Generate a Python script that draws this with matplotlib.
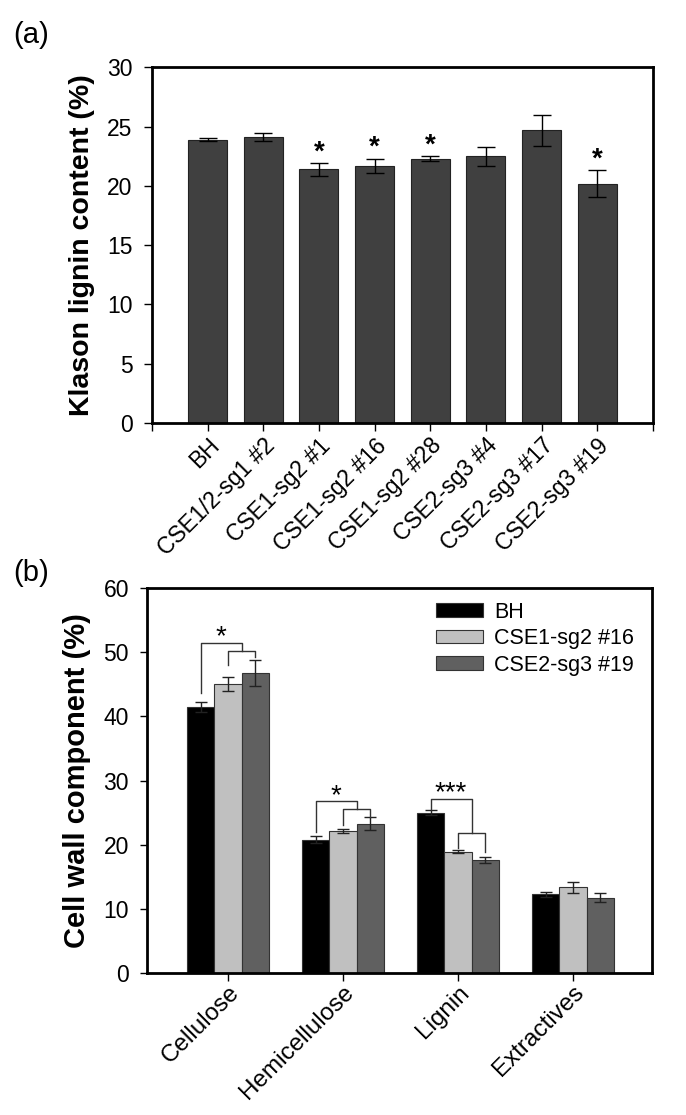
import matplotlib.pyplot as plt
import numpy as np

plt.rcParams['font.family'] = ['Liberation Sans', 'DejaVu Sans']

# (a) Klason lignin
lines_a = ["BH", "CSE1/2-sg1 #2", "CSE1-sg2 #1", "CSE1-sg2 #16",
           "CSE1-sg2 #28", "CSE2-sg3 #4", "CSE2-sg3 #17", "CSE2-sg3 #19"]
klason = [23.9, 24.1, 21.4, 21.7, 22.3, 22.5, 24.7, 20.2]
klason_err = [0.15, 0.35, 0.55, 0.6, 0.2, 0.8, 1.3, 1.1]
klason_sig = [False, False, True, True, True, False, False, True]

# (b) cell wall components
components = ["Cellulose", "Hemicellulose", "Lignin", "Extractives"]
series_names = ["BH", "CSE1-sg2 #16", "CSE2-sg3 #19"]
bh = [41.5, 20.8, 25.0, 12.3]
bh_err = [0.8, 0.5, 0.35, 0.4]
cse1 = [45.1, 22.2, 18.9, 13.35]
cse1_err = [1.1, 0.3, 0.2, 0.85]
cse2 = [46.8, 23.3, 17.6, 11.7]
cse2_err = [2.0, 1.0, 0.5, 0.7]

fig = plt.figure(figsize=(6.86, 11.15), dpi=100)

# ---------- panel (a) ----------
ax1 = fig.add_axes([0.2216, 0.6206, 0.730, 0.319])
x = np.arange(1, len(lines_a) + 1)
ax1.bar(x, klason, width=0.7, color='#404040', edgecolor='#222222', linewidth=0.8)
ax1.errorbar(x, klason, yerr=klason_err, fmt='none', ecolor='black',
             elinewidth=1.0, capsize=6.5, capthick=1.0)
for xi, v, e, s in zip(x, klason, klason_err, klason_sig):
    if s:
        ax1.text(xi, v + e - 0.2, '*', ha='center', va='bottom',
                 fontsize=20, fontweight='bold')
ax1.set_xlim(0, 9)
ax1.set_ylim(0, 30)
ax1.set_xticks(np.arange(0, 10))
ax1.set_xticklabels([''] + lines_a + [''], rotation=45, ha='right', va='top',
                    rotation_mode='anchor', fontsize=16.5)
ax1.set_yticks(np.arange(0, 31, 5))
ax1.tick_params(axis='y', labelsize=16.5, length=6, width=1, pad=8)
ax1.tick_params(axis='x', length=6, width=1, pad=2)
ax1.set_ylabel('Klason lignin content (%)', fontsize=20.5, fontweight='bold', labelpad=9)
for sp in ax1.spines.values():
    sp.set_linewidth(2)
fig.text(0.02, 0.969, '(a)', fontsize=21, ha='left', va='center')

# ---------- panel (b) ----------
ax2 = fig.add_axes([0.2143, 0.1274, 0.736, 0.345])
g = np.arange(len(components))
w = 0.237
colors = ['#000000', '#c0c0c0', '#606060']
vals = [bh, cse1, cse2]
errs = [bh_err, cse1_err, cse2_err]
for i, (v, e, c, n) in enumerate(zip(vals, errs, colors, series_names)):
    xs = g + (i - 1) * w
    ax2.bar(xs, v, width=w, color=c, edgecolor='#333333', linewidth=0.8, label=n)
    ax2.errorbar(xs, v, yerr=e, fmt='none', ecolor='#222222',
                 elinewidth=1.0, capsize=4.5, capthick=1.0)

# significance brackets
def bracket(ax, x0, x1, y, yl, yr, lw=1.0):
    ax.plot([x0, x0, x1, x1], [yl, y, y, yr], color='#333333', lw=lw)

# Cellulose
bracket(ax2, g[0] - w, g[0] + w / 2, 51.5, 43.6, 50.2)
bracket(ax2, g[0], g[0] + w, 50.2, 48.0, 49.3)
ax2.text(g[0] - w / 4, 50.3, '*', ha='center', va='bottom', fontsize=20)
# Hemicellulose
bracket(ax2, g[1] - w, g[1] + w / 2, 26.8, 22.0, 25.5)
bracket(ax2, g[1], g[1] + w, 25.5, 23.0, 24.3)
ax2.text(g[1] - w / 4, 25.6, '*', ha='center', va='bottom', fontsize=20)
# Lignin
bracket(ax2, g[2] - w, g[2] + w / 2, 27.2, 25.5, 21.8)
bracket(ax2, g[2], g[2] + w, 21.8, 19.5, 18.9)
ax2.text(g[2] - w / 4, 26.0, '***', ha='center', va='bottom', fontsize=20)

ax2.set_xlim(-0.704, 3.687)
ax2.set_ylim(0, 60)
ax2.set_xticks(g)
ax2.set_xticklabels(components, rotation=45, ha='right', va='top',
                    rotation_mode='anchor', fontsize=17.5)
ax2.set_yticks(np.arange(0, 61, 10))
ax2.tick_params(axis='y', labelsize=16.5, length=5, width=1, pad=8)
ax2.tick_params(axis='x', length=6, width=1, pad=0)
ax2.set_ylabel('Cell wall component (%)', fontsize=21, fontweight='bold', labelpad=9)
for sp in ax2.spines.values():
    sp.set_linewidth(2)
ax2.legend(loc='upper left', frameon=False, fontsize=15.5,
           handlelength=2.2, handleheight=0.6, labelspacing=0.25,
           bbox_to_anchor=(0.572, 0.965), borderaxespad=0, borderpad=0,
           handletextpad=0.5)
fig.text(0.02, 0.486, '(b)', fontsize=21, ha='left', va='center')

fig.savefig('out.png', dpi=100)
